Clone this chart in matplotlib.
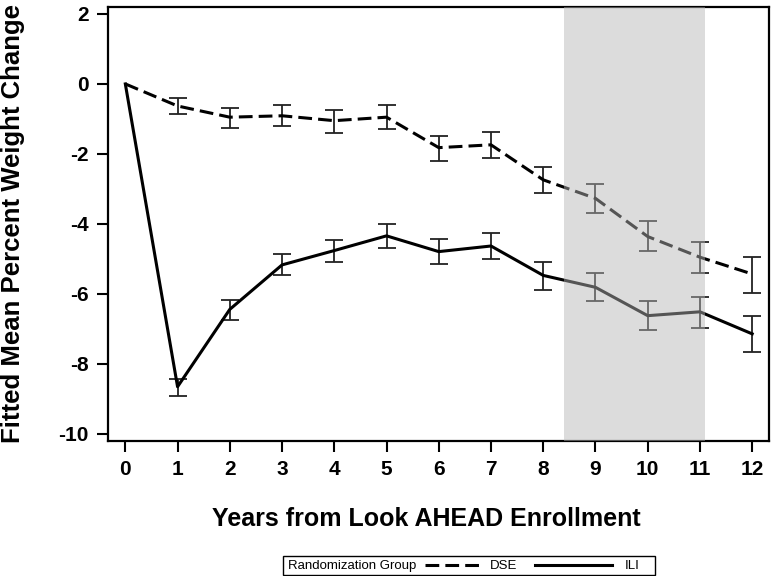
import matplotlib
matplotlib.use("Agg")
import matplotlib.pyplot as plt
from matplotlib.lines import Line2D
from matplotlib.patches import Rectangle
import numpy as np

years = np.arange(0, 13)
dse_mean = [0.0, -0.63, -0.95, -0.91, -1.05, -0.95, -1.82, -1.74, -2.74, -3.27, -4.36, -4.95, -5.43]
dse_lower = [np.nan, -0.87, -1.25, -1.21, -1.39, -1.30, -2.19, -2.12, -3.12, -3.68, -4.76, -5.41, -5.96]
dse_upper = [np.nan, -0.39, -0.70, -0.60, -0.74, -0.61, -1.49, -1.36, -2.36, -2.87, -3.93, -4.52, -4.93]
ili_mean = [0.0, -8.65, -6.44, -5.17, -4.76, -4.34, -4.79, -4.63, -5.47, -5.81, -6.62, -6.51, -7.14]
ili_lower = [np.nan, -8.91, -6.73, -5.47, -5.09, -4.69, -5.14, -5.01, -5.88, -6.21, -7.03, -6.96, -7.66]
ili_upper = [np.nan, -8.44, -6.17, -4.86, -4.46, -4.01, -4.43, -4.25, -5.09, -5.40, -6.20, -6.08, -6.63]
shade_start, shade_end = 8.4, 11.1

plt.rcParams["font.family"] = ["Liberation Sans", "DejaVu Sans"]
plt.rcParams["axes.unicode_minus"] = False

fig = plt.figure(figsize=(7.72, 5.76), dpi=100)
ax = fig.add_axes([0.140, 0.2344, 0.856, 0.7536])


def draw_group(mean, lower, upper, dashes):
    mean = np.asarray(mean)
    lower = np.asarray(lower)
    upper = np.asarray(upper)
    yerr = np.vstack([mean - lower, upper - mean])
    ax.errorbar(years[1:], mean[1:], yerr=yerr[:, 1:], fmt="none", ecolor="#222222",
                elinewidth=1.3, capsize=6.5, capthick=1.3, zorder=2)
    line, = ax.plot(years, mean, color="black", lw=2.2, zorder=3)
    if dashes is not None:
        line.set_dashes(dashes)
    return line


dse_line = draw_group(dse_mean, dse_lower, dse_upper, (4.5, 2))
ili_line = draw_group(ili_mean, ili_lower, ili_upper, None)

# translucent overlay, lines inside look grey
ax.axvspan(shade_start, shade_end, color="#b6b6b6", alpha=0.47, lw=0, zorder=5)

ax.set_xlim(-0.33, 12.32)
ax.set_ylim(-10.2, 2.2)
ax.set_xticks(years)
ax.set_yticks([2, 0, -2, -4, -6, -8, -10])
ax.tick_params(axis="both", length=8, width=1.5, labelsize=15, pad=6)
for lab in ax.get_xticklabels() + ax.get_yticklabels():
    lab.set_fontweight("bold")
for sp in ax.spines.values():
    sp.set_linewidth(1.6)

ax.set_xlabel("Years from Look AHEAD Enrollment", fontsize=18, fontweight="bold")
ax.xaxis.set_label_coords(0.481, -0.152)
ax.set_ylabel("Fitted Mean Percent Weight Change", fontsize=18.5, fontweight="bold")
ax.yaxis.set_label_coords(-0.126, 0.502)

# legend strip at the bottom
fig.patches.append(Rectangle((283 / 772, 1 - 575 / 576), (655 - 283) / 772, 19 / 576,
                             transform=fig.transFigure, fill=False, lw=1.0, ec="black"))
fig.text(288 / 772, 1 - 566 / 576, "Randomization Group", fontsize=9.5, va="center", ha="left")
h_dse = Line2D([], [], color="black", lw=2.2, dashes=(4.5, 2))
h_ili = Line2D([], [], color="black", lw=2.2)
fig.legend([h_dse], ["DSE"], loc="center left", bbox_to_anchor=(425 / 772, 1 - 566 / 576),
           frameon=False, fontsize=9.5, handlelength=4.2, handletextpad=0.75,
           borderpad=0, borderaxespad=0)
fig.legend([h_ili], ["ILI"], loc="center left", bbox_to_anchor=(535 / 772, 1 - 566 / 576),
           frameon=False, fontsize=9.5, handlelength=5.8, handletextpad=1.0,
           borderpad=0, borderaxespad=0)

fig.savefig("out.png", dpi=100)
